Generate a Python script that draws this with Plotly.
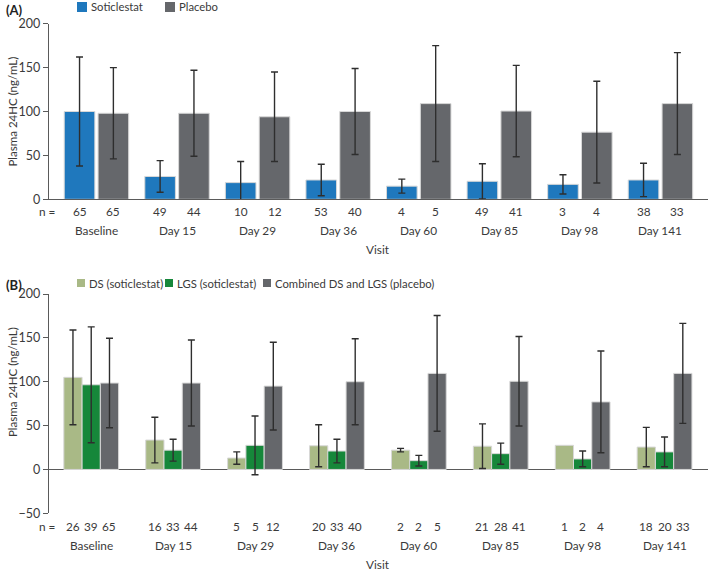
import plotly.graph_objects as go

# ---------------- data ----------------
visits = ["Baseline", "Day 15", "Day 29", "Day 36", "Day 60", "Day 85", "Day 98", "Day 141"]

# Panel A
a_soti_mean = [100, 26, 19, 22, 15, 20.5, 17, 22]
a_soti_sd = [62, 18, 24, 18, 8, 20, 11, 19]
a_soti_n = [65, 49, 10, 53, 4, 49, 3, 38]
a_pbo_mean = [98, 98, 94, 100, 109, 100.5, 76.5, 109]
a_pbo_sd = [52, 49, 51, 49, 66, 52, 58, 58]
a_pbo_n = [65, 44, 12, 40, 5, 41, 4, 33]

# Panel B
b_ds_mean = [105, 33.5, 13, 27, 22, 26.5, 27.5, 25.5]
b_ds_sd = [54, 26, 7, 24, 2, 25.5, None, 22.5]
b_ds_n = [26, 16, 5, 20, 2, 21, 1, 18]
b_lgs_mean = [96.5, 22, 27.5, 21, 10, 18, 12, 20]
b_lgs_sd = [66, 12.5, 33.5, 13.5, 6, 12, 9, 17]
b_lgs_n = [39, 33, 5, 33, 2, 28, 2, 20]
b_pbo_mean = [98.5, 98.5, 95, 100, 109.5, 100.5, 77, 109.5]
b_pbo_sd = [51, 49, 50, 49, 66, 51, 58, 57]
b_pbo_n = [65, 44, 12, 40, 5, 41, 4, 33]

# ---------------- style ----------------
W, H = 709, 572
FONT = "Lato"
TXT = "#3a3a3a"
AXC = "#5a5a5a"
C_SOTI = "#1f78bd"
C_PBO = "#65676b"
C_DS = "#a9b986"
C_LGS = "#16873a"
ERR = dict(type="data", color="#2e2e2e", thickness=1.4, width=3.5, visible=True)
LBL = 11.8


def py(px):
    return 1 - px / H


def pxx(px):
    return px / W


def err_array(sd):
    # missing SD -> non-numeric so no error bar is drawn
    return [v if v is not None else "NaN" for v in sd]


xs = list(range(len(visits)))

fig = go.Figure()


def add_bar(mean, sd, color, width, offset, xa, ya):
    fig.add_trace(go.Bar(
        x=xs, y=mean, width=width, offset=offset,
        marker=dict(color=color, line=dict(color="#d8d8d8", width=1)),
        error_y=dict(array=err_array(sd), **ERR),
        xaxis=xa, yaxis=ya, showlegend=False,
    ))


# panel A bars
A_W = 0.38
A_OFF = [-0.40, 0.02]
add_bar(a_soti_mean, a_soti_sd, C_SOTI, A_W, A_OFF[0], "x", "y")
add_bar(a_pbo_mean, a_pbo_sd, C_PBO, A_W, A_OFF[1], "x", "y")

# panel B bars
B_W = 0.223
B_OFF = [-0.335, -0.112, 0.111]
add_bar(b_ds_mean, b_ds_sd, C_DS, B_W, B_OFF[0], "x2", "y2")
add_bar(b_lgs_mean, b_lgs_sd, C_LGS, B_W, B_OFF[1], "x2", "y2")
add_bar(b_pbo_mean, b_pbo_sd, C_PBO, B_W, B_OFF[2], "x2", "y2")

annotations = []
shapes = []


def ann(text, x, y, xref="paper", size=LBL, xanchor="center", **kw):
    annotations.append(dict(text=text, x=x, y=y, xref=xref, yref="paper",
                            xanchor=xanchor, yanchor="middle", showarrow=False,
                            font=dict(family=FONT, size=size, color=TXT), **kw))


# n = rows and category labels
for i, v in enumerate(visits):
    for ns, off, w in ((a_soti_n, A_OFF[0], A_W), (a_pbo_n, A_OFF[1], A_W)):
        ann(str(ns[i]), i + off + w / 2, py(211), xref="x")
    ann(v, i, py(230), xref="x")
    for ns, off in ((b_ds_n, B_OFF[0]), (b_lgs_n, B_OFF[1]), (b_pbo_n, B_OFF[2])):
        ann(str(ns[i]), i + off + B_W / 2, py(526), xref="x2")
    ann(v, i, py(545), xref="x2")

ann("n =", pxx(47), py(211))
ann("n =", pxx(47), py(526))
ann("Visit", pxx(378), py(249))
ann("Visit", pxx(378), py(564))

# y titles
ann("Plasma 24HC (ng/mL)", pxx(12), py(111.5), textangle=-90, size=11.5)
ann("Plasma 24HC (ng/mL)", pxx(12), py(382), textangle=-90, size=11.5)

# panel labels
annotations.append(dict(text="<b>(A)</b>", x=pxx(4), y=py(10), xref="paper", yref="paper",
                        xanchor="left", yanchor="middle", showarrow=False,
                        font=dict(family=FONT, size=13, color="#222")))
annotations.append(dict(text="<b>(B)</b>", x=pxx(4), y=py(285), xref="paper", yref="paper",
                        xanchor="left", yanchor="middle", showarrow=False,
                        font=dict(family=FONT, size=13, color="#222")))

# legends (manual)
leg_a = [("Soticlestat", C_SOTI, 77), ("Placebo", C_PBO, 165)]
leg_b = [("DS (soticlestat)", C_DS, 77), ("LGS (soticlestat)", C_LGS, 165),
         ("Combined DS and LGS (placebo)", C_PBO, 263)]
for items, yc, sz in ((leg_a, 7, 10), (leg_b, 283, 8)):
    for label, col, x0 in items:
        shapes.append(dict(type="rect", xref="paper", yref="paper",
                           x0=pxx(x0), x1=pxx(x0 + sz), y0=py(yc + sz / 2), y1=py(yc - sz / 2),
                           fillcolor=col, line=dict(width=0)))
        ann(label, pxx(x0 + sz + 2), py(yc), xanchor="left", size=11.3)

axis_common = dict(showgrid=False, zeroline=False)
xa_common = dict(showticklabels=False, ticks="", tickvals=xs, **axis_common)
ya_common = dict(showline=True, linecolor=AXC, linewidth=1.3, ticks="outside",
                 ticklen=5, tickcolor=AXC, tickwidth=1.3,
                 tickfont=dict(family=FONT, size=12.5, color=TXT), showgrid=False)

fig.update_layout(
    width=W, height=H, margin=dict(l=0, r=0, t=0, b=0, autoexpand=False),
    paper_bgcolor="white", plot_bgcolor="white",
    barmode="overlay", showlegend=False,
    xaxis=dict(domain=[pxx(49), pxx(708)], range=[-0.589, 7.59], anchor="y",
               showline=True, linecolor=AXC, linewidth=1.3, **xa_common),
    yaxis=dict(domain=[py(199.3), py(23.7)], range=[0, 200], dtick=50, anchor="x",
               zeroline=False, **ya_common),
    xaxis2=dict(domain=[pxx(49), pxx(708)], range=[-0.516, 7.53], anchor="y2",
                showline=False, **xa_common),
    yaxis2=dict(domain=[py(513.3), py(294)], range=[-50, 200], dtick=50, anchor="x2",
                zeroline=True, zerolinecolor=AXC, zerolinewidth=1.3, **ya_common),
    annotations=annotations, shapes=shapes,
)

fig.write_html("out.html", config={"displayModeBar": False},
               post_script="document.body.style.margin='0';document.body.style.overflow='hidden';")
